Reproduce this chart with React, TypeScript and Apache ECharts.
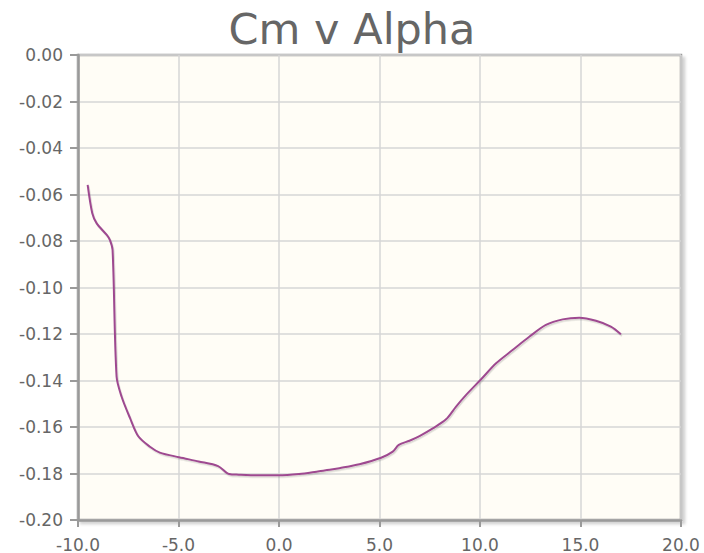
import React, { useEffect, useRef } from "react";
import * as echarts from "echarts";

const TITLE = "Cm v Alpha";

const alpha: number[] = [
  -9.52, -9.29, -9.07, -8.57, -8.41, -8.28, -8.08, -7.83, -7.42, -7.0, -6.42,
  -5.93, -4.97, -4.0, -3.03, -2.48, -2.0, -1.0, 0.0, 1.0, 2.0, 2.52, 3.0, 4.0,
  5.08, 5.66, 5.96, 6.49, 6.99, 7.65, 8.31, 8.81, 9.31, 10.02, 10.8, 11.62,
  12.45, 13.28, 14.11, 14.94, 15.77, 16.51, 17.01,
];

const cm: number[] = [
  -0.0559, -0.0681, -0.0724, -0.0774, -0.0796, -0.0839, -0.1384, -0.147,
  -0.156, -0.164, -0.1685, -0.171, -0.173, -0.1748, -0.1768, -0.1802, -0.1805,
  -0.1808, -0.1808, -0.1802, -0.179, -0.1784, -0.1777, -0.176, -0.1732,
  -0.1706, -0.1677, -0.1659, -0.1639, -0.1606, -0.1567, -0.1512, -0.1462,
  -0.1398, -0.1326, -0.1269, -0.1212, -0.1161, -0.1137, -0.113, -0.1143,
  -0.1168, -0.1201,
];

const X_MIN = -10;
const X_MAX = 20;
const X_STEP = 5;
const Y_MIN = -0.2;
const Y_MAX = 0;
const Y_STEP = 0.02;

export default function App() {
  const ref = useRef<HTMLDivElement>(null);

  useEffect(() => {
    if (!ref.current) return;
    const chart = echarts.init(ref.current, undefined, { renderer: "svg" });
    const font = "DejaVu Sans";
    const border = "#9a9a9a";
    chart.setOption({
      animation: false,
      backgroundColor: "#ffffff",
      title: {
        text: TITLE,
        left: "center",
        top: 2,
        textStyle: {
          fontFamily: font,
          fontSize: 43,
          fontWeight: "normal",
          color: "#666666",
        },
      },
      grid: {
        left: 78,
        right: 23,
        top: 55,
        bottom: 33,
        show: true,
        backgroundColor: "#fffdf6",
        borderColor: border,
        borderWidth: 2.5,
        shadowColor: "rgba(0,0,0,0.18)",
        shadowBlur: 3,
        shadowOffsetX: 3,
        shadowOffsetY: 3,
      },
      xAxis: {
        type: "value",
        min: X_MIN,
        max: X_MAX,
        interval: X_STEP,
        axisLine: {
          show: true,
          onZero: false,
          lineStyle: { color: border, width: 2.5 },
        },
        axisTick: {
          show: true,
          length: 7,
          lineStyle: { color: border, width: 2 },
        },
        splitLine: { show: true, lineStyle: { color: "#d6d6d6", width: 1.5 } },
        axisLabel: {
          fontFamily: font,
          fontSize: 17,
          color: "#666666",
          margin: 16,
          formatter: (v: number) => v.toFixed(1),
        },
      },
      yAxis: {
        type: "value",
        min: Y_MIN,
        max: Y_MAX,
        interval: Y_STEP,
        axisLine: {
          show: true,
          onZero: false,
          lineStyle: { color: border, width: 2.5 },
        },
        axisTick: {
          show: true,
          length: 8,
          lineStyle: { color: border, width: 2 },
        },
        splitLine: { show: true, lineStyle: { color: "#d6d6d6", width: 1.5 } },
        axisLabel: {
          fontFamily: font,
          fontSize: 17,
          color: "#666666",
          margin: 15,
          formatter: (v: number) => v.toFixed(2),
        },
      },
      series: [
        {
          type: "line",
          data: alpha.map((a, i) => [a, cm[i]]),
          showSymbol: false,
          symbol: "none",
          smooth: 0.3,
          lineStyle: {
            color: "#9e4a90",
            width: 2,
            shadowColor: "rgba(0,0,0,0.15)",
            shadowBlur: 1,
            shadowOffsetX: 1,
            shadowOffsetY: 1.5,
          },
        },
      ],
    });
    return () => chart.dispose();
  }, []);

  return (
    <div
      ref={ref}
      style={{ position: "fixed", left: 0, top: 0, width: 704, height: 553 }}
    />
  );
}
